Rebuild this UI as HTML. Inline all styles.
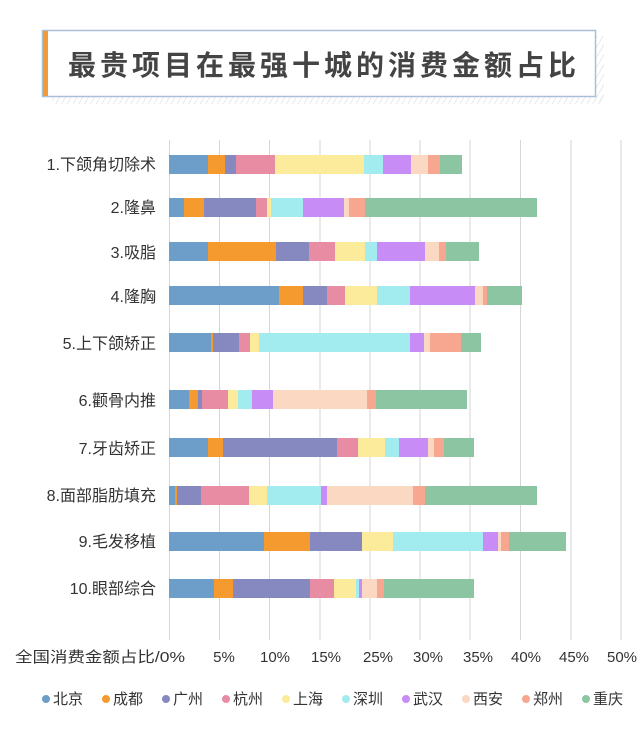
<!DOCTYPE html>
<html><head><meta charset="utf-8"><style>
body{margin:0;background:#fff;}
svg text{font-family:"Liberation Sans","Noto Sans CJK SC",sans-serif;fill:#333;}
</style></head><body>
<svg width="640" height="736" xmlns="http://www.w3.org/2000/svg">
<defs><pattern id="h" width="5" height="5" patternUnits="userSpaceOnUse" patternTransform="rotate(30)"><line x1="0" y1="0" x2="0" y2="5" stroke="#cfd6e0" stroke-width="1"/></pattern></defs>
<rect x="52" y="96" width="552" height="8" fill="url(#h)"/>
<rect x="596" y="36" width="8" height="66" fill="url(#h)"/>
<rect x="42.5" y="30.5" width="553" height="66" fill="#fff" stroke="#a9bfd8" stroke-width="1.5"/>
<rect x="43" y="31" width="5" height="65" fill="#f29a38"/>
<text x="68" y="75" font-size="28" font-weight="bold" style="fill:#444" letter-spacing="4">最贵项目在最强十城的消费金额占比</text>
<g stroke="#d6d6d8" stroke-width="1">
<line x1="169.5" y1="140" x2="169.5" y2="640"/><line x1="219.5" y1="140" x2="219.5" y2="640"/><line x1="269.5" y1="140" x2="269.5" y2="640"/><line x1="320" y1="140" x2="320" y2="640"/><line x1="370" y1="140" x2="370" y2="640"/><line x1="420" y1="140" x2="420" y2="640"/><line x1="470" y1="140" x2="470" y2="640"/><line x1="520.5" y1="140" x2="520.5" y2="640"/><line x1="571" y1="140" x2="571" y2="640"/><line x1="621" y1="140" x2="621" y2="640"/>
</g>
<g>
<g transform="translate(0,155)">
<rect x="169" width="39" height="19" fill="#6d9ec9"/><rect x="208" width="17" height="19" fill="#f59a2e"/><rect x="225" width="11" height="19" fill="#8689bf"/><rect x="236" width="39" height="19" fill="#e88ca3"/><rect x="275" width="89" height="19" fill="#fbeb9b"/><rect x="364" width="19" height="19" fill="#a2ecef"/><rect x="383" width="28" height="19" fill="#c78cf6"/><rect x="411" width="17" height="19" fill="#fbd8c2"/><rect x="428" width="12" height="19" fill="#f7a68f"/><rect x="440" width="22" height="19" fill="#8cc5a2"/>
</g>
<g transform="translate(0,198)">
<rect x="169" width="15" height="19" fill="#6d9ec9"/><rect x="184" width="20" height="19" fill="#f59a2e"/><rect x="204" width="52" height="19" fill="#8689bf"/><rect x="256" width="11" height="19" fill="#e88ca3"/><rect x="267" width="4" height="19" fill="#fbeb9b"/><rect x="271" width="32" height="19" fill="#a2ecef"/><rect x="303" width="41" height="19" fill="#c78cf6"/><rect x="344" width="5" height="19" fill="#fbd8c2"/><rect x="349" width="16" height="19" fill="#f7a68f"/><rect x="365" width="172" height="19" fill="#8cc5a2"/>
</g>
<g transform="translate(0,242)">
<rect x="169" width="39" height="19" fill="#6d9ec9"/><rect x="208" width="68" height="19" fill="#f59a2e"/><rect x="276" width="33" height="19" fill="#8689bf"/><rect x="309" width="26" height="19" fill="#e88ca3"/><rect x="335" width="30" height="19" fill="#fbeb9b"/><rect x="365" width="12" height="19" fill="#a2ecef"/><rect x="377" width="48" height="19" fill="#c78cf6"/><rect x="425" width="14" height="19" fill="#fbd8c2"/><rect x="439" width="7" height="19" fill="#f7a68f"/><rect x="446" width="33" height="19" fill="#8cc5a2"/>
</g>
<g transform="translate(0,286)">
<rect x="169" width="110" height="19" fill="#6d9ec9"/><rect x="279" width="24" height="19" fill="#f59a2e"/><rect x="303" width="24" height="19" fill="#8689bf"/><rect x="327" width="18" height="19" fill="#e88ca3"/><rect x="345" width="32" height="19" fill="#fbeb9b"/><rect x="377" width="33" height="19" fill="#a2ecef"/><rect x="410" width="65" height="19" fill="#c78cf6"/><rect x="475" width="8" height="19" fill="#fbd8c2"/><rect x="483" width="4" height="19" fill="#f7a68f"/><rect x="487" width="35" height="19" fill="#8cc5a2"/>
</g>
<g transform="translate(0,333)">
<rect x="169" width="42" height="19" fill="#6d9ec9"/><rect x="211" width="2" height="19" fill="#f59a2e"/><rect x="213" width="26" height="19" fill="#8689bf"/><rect x="239" width="11" height="19" fill="#e88ca3"/><rect x="250" width="9" height="19" fill="#fbeb9b"/><rect x="259" width="151" height="19" fill="#a2ecef"/><rect x="410" width="14" height="19" fill="#c78cf6"/><rect x="424" width="6" height="19" fill="#fbd8c2"/><rect x="430" width="31" height="19" fill="#f7a68f"/><rect x="461" width="20" height="19" fill="#8cc5a2"/>
</g>
<g transform="translate(0,390)">
<rect x="169" width="20" height="19" fill="#6d9ec9"/><rect x="189" width="9" height="19" fill="#f59a2e"/><rect x="198" width="4" height="19" fill="#8689bf"/><rect x="202" width="26" height="19" fill="#e88ca3"/><rect x="228" width="10" height="19" fill="#fbeb9b"/><rect x="238" width="14" height="19" fill="#a2ecef"/><rect x="252" width="21" height="19" fill="#c78cf6"/><rect x="273" width="94" height="19" fill="#fbd8c2"/><rect x="367" width="9" height="19" fill="#f7a68f"/><rect x="376" width="91" height="19" fill="#8cc5a2"/>
</g>
<g transform="translate(0,438)">
<rect x="169" width="39" height="19" fill="#6d9ec9"/><rect x="208" width="15" height="19" fill="#f59a2e"/><rect x="223" width="114" height="19" fill="#8689bf"/><rect x="337" width="21" height="19" fill="#e88ca3"/><rect x="358" width="27" height="19" fill="#fbeb9b"/><rect x="385" width="14" height="19" fill="#a2ecef"/><rect x="399" width="29" height="19" fill="#c78cf6"/><rect x="428" width="6" height="19" fill="#fbd8c2"/><rect x="434" width="10" height="19" fill="#f7a68f"/><rect x="444" width="30" height="19" fill="#8cc5a2"/>
</g>
<g transform="translate(0,486)">
<rect x="169" width="6" height="19" fill="#6d9ec9"/><rect x="175" width="2" height="19" fill="#f59a2e"/><rect x="177" width="24" height="19" fill="#8689bf"/><rect x="201" width="48" height="19" fill="#e88ca3"/><rect x="249" width="18" height="19" fill="#fbeb9b"/><rect x="267" width="54" height="19" fill="#a2ecef"/><rect x="321" width="6" height="19" fill="#c78cf6"/><rect x="327" width="86" height="19" fill="#fbd8c2"/><rect x="413" width="12" height="19" fill="#f7a68f"/><rect x="425" width="112" height="19" fill="#8cc5a2"/>
</g>
<g transform="translate(0,532)">
<rect x="169" width="95" height="19" fill="#6d9ec9"/><rect x="264" width="46" height="19" fill="#f59a2e"/><rect x="310" width="52" height="19" fill="#8689bf"/><rect x="362" width="31" height="19" fill="#fbeb9b"/><rect x="393" width="90" height="19" fill="#a2ecef"/><rect x="483" width="15" height="19" fill="#c78cf6"/><rect x="498" width="3" height="19" fill="#fbd8c2"/><rect x="501" width="8" height="19" fill="#f7a68f"/><rect x="509" width="57" height="19" fill="#8cc5a2"/>
</g>
<g transform="translate(0,579)">
<rect x="169" width="45" height="19" fill="#6d9ec9"/><rect x="214" width="19" height="19" fill="#f59a2e"/><rect x="233" width="77" height="19" fill="#8689bf"/><rect x="310" width="24" height="19" fill="#e88ca3"/><rect x="334" width="22" height="19" fill="#fbeb9b"/><rect x="356" width="3" height="19" fill="#a2ecef"/><rect x="359" width="3" height="19" fill="#c78cf6"/><rect x="362" width="15" height="19" fill="#fbd8c2"/><rect x="377" width="7" height="19" fill="#f7a68f"/><rect x="384" width="90" height="19" fill="#8cc5a2"/>
</g>
</g>
<g font-size="16" text-anchor="end">
<text x="156" y="170">1.下颌角切除术</text>
<text x="156" y="213">2.隆鼻</text>
<text x="156" y="258">3.吸脂</text>
<text x="156" y="302">4.隆胸</text>
<text x="156" y="349">5.上下颌矫正</text>
<text x="156" y="406">6.颧骨内推</text>
<text x="156" y="454">7.牙齿矫正</text>
<text x="156" y="501">8.面部脂肪填充</text>
<text x="156" y="547">9.毛发移植</text>
<text x="156" y="594">10.眼部综合</text>
</g>
<g font-size="15">
<text x="15" y="662" textLength="170" lengthAdjust="spacingAndGlyphs">全国消费金额占比/0%</text>
<text x="224" y="662" text-anchor="middle">5%</text>
<text x="275" y="662" text-anchor="middle">10%</text>
<text x="326" y="662" text-anchor="middle">15%</text>
<text x="378" y="662" text-anchor="middle">25%</text>
<text x="428" y="662" text-anchor="middle">30%</text>
<text x="478" y="662" text-anchor="middle">35%</text>
<text x="526" y="662" text-anchor="middle">40%</text>
<text x="574" y="662" text-anchor="middle">45%</text>
<text x="622" y="662" text-anchor="middle">50%</text>
</g>
<g font-size="15">
<circle cx="46" cy="699" r="4" fill="#6d9ec9"/><text x="53" y="704">北京</text>
<circle cx="106" cy="699" r="4" fill="#f59a2e"/><text x="113" y="704">成都</text>
<circle cx="166" cy="699" r="4" fill="#8689bf"/><text x="173" y="704">广州</text>
<circle cx="226" cy="699" r="4" fill="#e88ca3"/><text x="233" y="704">杭州</text>
<circle cx="286" cy="699" r="4" fill="#fbeb9b"/><text x="293" y="704">上海</text>
<circle cx="346" cy="699" r="4" fill="#a2ecef"/><text x="353" y="704">深圳</text>
<circle cx="406" cy="699" r="4" fill="#c78cf6"/><text x="413" y="704">武汉</text>
<circle cx="466" cy="699" r="4" fill="#fbd8c2"/><text x="473" y="704">西安</text>
<circle cx="526" cy="699" r="4" fill="#f7a68f"/><text x="533" y="704">郑州</text>
<circle cx="586" cy="699" r="4" fill="#8cc5a2"/><text x="593" y="704">重庆</text>
</g>
</svg>
</body></html>
